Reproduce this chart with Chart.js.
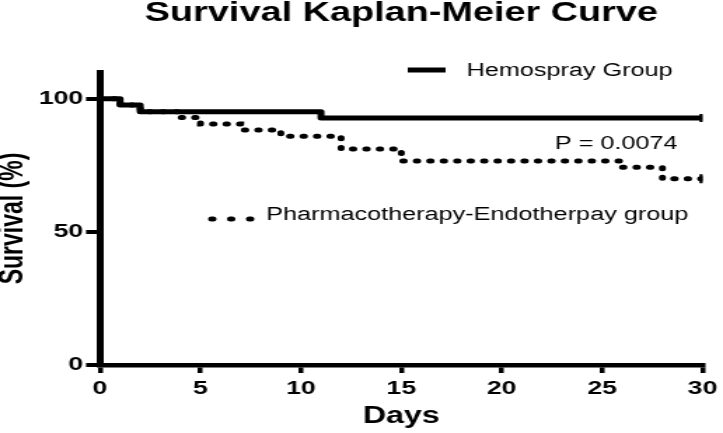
<!DOCTYPE html>
<html lang="en">
<head>
  <meta charset="UTF-8">
  <title>Survival Kaplan-Meier Curve</title>
  <style>
    body {
      margin: 0;
      padding: 0;
      background-color: #fff;
    }
    /* the original picture is stretched sideways, so the canvas is drawn narrow and scaled up */
    #kmChart {
      display: block;
      width: 723px;
      height: 433px;
    }
  </style>
  <script src="https://cdn.jsdelivr.net/npm/chart.js"></script>
</head>
<body>

  <canvas id="kmChart" width="516" height="433" style="width:723px;height:433px"></canvas>

  <script>
    // Kaplan-Meier steps
    const hemoDays = [0, 1, 2, 11, 30];
    const hemoSurvival = [100, 97.6, 95.1, 92.7, 92.7];

    // first two steps sit under the solid line
    const pharmDays = [0, 1, 2, 4, 5, 7, 9, 12, 15, 26, 28, 30];
    const pharmSurvival = [100, 97.6, 95.1, 92.9, 90.5, 88.2, 85.9, 81.1, 76.6, 74.2, 69.9, 69.9];

    const seriesNames = ['Hemospray Group', 'Pharmacotherapy-Endotherpay group'];
    const pValueText = 'P = 0.0074';

    const FONT = '"Liberation Sans", Arial, sans-serif';

    function toPoints(days, values) {
      return days.map((d, i) => ({ x: d, y: values[i] }));
    }

    // small censor tick only at the last point
    function lastOnly(days, r) {
      return days.map((d, i) => (i === days.length - 1 ? r : 0));
    }

    // Legend entries and the P value are drawn inside the plot like the original
    const kmLabels = {
      id: 'kmLabels',
      afterDraw(chart) {
        const ctx = chart.ctx;
        ctx.save();
        ctx.fillStyle = '#000';
        ctx.strokeStyle = '#000';
        ctx.font = '18px ' + FONT;
        ctx.textBaseline = 'middle';

        // solid line legend
        ctx.lineWidth = 5;
        ctx.lineCap = 'butt';
        ctx.beginPath();
        ctx.moveTo(291, 70);
        ctx.lineTo(318, 70);
        ctx.stroke();
        ctx.fillText(seriesNames[0], 333, 71);

        // dotted line legend
        ctx.lineWidth = 5;
        ctx.lineCap = 'round';
        ctx.setLineDash([1, 12.5]);
        ctx.beginPath();
        ctx.moveTo(151, 219);
        ctx.lineTo(179, 219);
        ctx.stroke();
        ctx.setLineDash([]);
        ctx.fillText(seriesNames[1], 190, 215);

        ctx.fillText(pValueText, 396, 144);
        ctx.restore();
      }
    };

    new Chart(document.getElementById('kmChart'), {
      type: 'line',
      data: {
        datasets: [{
          label: seriesNames[0],
          data: toPoints(hemoDays, hemoSurvival),
          borderColor: '#000',
          borderWidth: 5,
          borderJoinStyle: 'round',
          stepped: true,
          fill: false,
          pointStyle: 'line',
          rotation: 90,
          pointRadius: lastOnly(hemoDays, 4),
          pointBorderWidth: 4.5,
          pointBorderColor: '#000'
        }, {
          label: seriesNames[1],
          data: toPoints(pharmDays, pharmSurvival),
          borderColor: '#000',
          borderWidth: 5,
          borderDash: [1, 8.6],
          borderCapStyle: 'round',
          stepped: true,
          fill: false,
          pointStyle: 'line',
          rotation: 90,
          pointRadius: lastOnly(pharmDays, 4.5),
          pointBorderWidth: 4.5,
          pointBorderColor: '#000'
        }]
      },
      options: {
        responsive: false,
        animation: false,
        devicePixelRatio: 1,
        layout: { padding: { left: 0, right: 12, top: 0, bottom: 0 } },
        plugins: {
          legend: { display: false },
          tooltip: { enabled: false },
          title: {
            display: true,
            text: 'Survival Kaplan-Meier Curve',
            color: '#000',
            fullSize: false,
            font: { family: FONT, size: 27, weight: 'bold', lineHeight: 1 },
            padding: { top: 0, bottom: 45 }
          }
        },
        scales: {
          x: {
            type: 'linear',
            min: 0,
            max: 30,
            afterFit(scale) { scale.height = 68; },
            border: { color: '#000', width: 4.5 },
            grid: { drawOnChartArea: false, tickLength: 8, lineWidth: 3.5, color: '#000' },
            ticks: {
              stepSize: 5,
              color: '#000',
              padding: 4,
              maxRotation: 0,
              font: { family: FONT, size: 19, weight: 'bold' }
            },
            title: {
              display: true,
              text: 'Days',
              color: '#000',
              padding: { top: 3, bottom: 3 },
              font: { family: FONT, size: 23, weight: 'bold' }
            }
          },
          y: {
            min: 0,
            max: 110,
            afterFit(scale) { scale.width = 71.4; },
            border: { color: '#000', width: 5 },
            grid: { drawOnChartArea: false, tickLength: 10, lineWidth: 4, color: '#000' },
            ticks: {
              stepSize: 50,
              includeBounds: false,
              color: '#000',
              padding: 2,
              font: { family: FONT, size: 19, weight: 'bold' }
            },
            title: {
              display: true,
              text: 'Survival (%)',
              color: '#000',
              padding: 0,
              font: { family: FONT, size: 23, weight: 'bold', lineHeight: 0.8 }
            }
          }
        }
      },
      plugins: [kmLabels]
    });
  </script>

</body>
</html>
